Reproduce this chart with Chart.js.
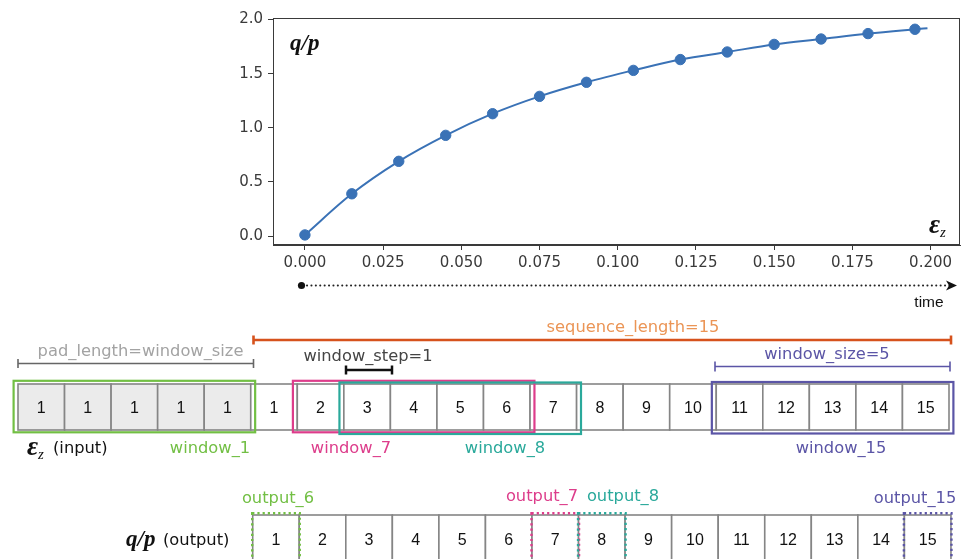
<!DOCTYPE html>
<html>
<head>
<meta charset="utf-8">
<script src="https://cdn.jsdelivr.net/npm/chart.js@4.4.1/dist/chart.umd.min.js"></script>
<style>
  html, body { margin:0; padding:0; background:#fff; width:967px; height:559px; overflow:hidden; }
  #wrap { position:absolute; left:0; top:0; width:967px; height:280px; }
  #diagram { position:absolute; left:0; top:0; }
  .math { position:absolute; font-family:'Liberation Serif', serif; font-style:italic; font-weight:bold; color:#111; white-space:nowrap; line-height:1; }
  .math sub { font-size:0.55em; font-weight:normal; vertical-align:-0.25em; }
</style>
</head>
<body>
<div id="wrap"><canvas id="c"></canvas></div>
<svg id="diagram" width="967" height="559" xmlns="http://www.w3.org/2000/svg"></svg>
<div class="math" style="left:290px;top:31px;font-size:23px;">q/p</div>
<div class="math" style="left:929px;top:211px;font-size:27px;">ε<sub>z</sub></div>
<div class="math" style="left:27px;top:433px;font-size:27px;">ε<sub>z</sub></div>
<div class="math" style="left:126px;top:527px;font-size:23px;">q/p</div>
<script>
// ---- data ----
const strainValues = [0, 0.015, 0.030, 0.045, 0.060, 0.075, 0.090, 0.105, 0.120, 0.135, 0.150, 0.165, 0.180, 0.195];
const qpValues     = [0.01, 0.39, 0.69, 0.93, 1.13, 1.29, 1.42, 1.53, 1.63, 1.70, 1.77, 1.82, 1.87, 1.91];
const curveEndX = 0.199;
const curveEndY = 1.92;
const xTickValues = [0, 0.025, 0.05, 0.075, 0.1, 0.125, 0.15, 0.175, 0.2];
const yTickValues = [0, 0.5, 1.0, 1.5, 2.0];

const inputCells  = [1, 1, 1, 1, 1, 1, 2, 3, 4, 5, 6, 7, 8, 9, 10, 11, 12, 13, 14, 15];
const padCount = 5;
const outputCells = [1, 2, 3, 4, 5, 6, 7, 8, 9, 10, 11, 12, 13, 14, 15];
const windowNames  = ['window_1', 'window_7', 'window_8', 'window_15'];
const windowStarts = [0, 6, 7, 15];
const windowSize = 5;
const outputNames  = ['output_6', 'output_7', 'output_8', 'output_15'];
const outputIndex  = [0, 6, 7, 14];
const sequenceLabel = 'sequence_length=15';
const padLabel = 'pad_length=window_size';
const stepLabel = 'window_step=1';
const sizeLabel = 'window_size=5';

// ---- chart ----
const C0 = '#3a72b6';
const curvePts = strainValues.map((x, i) => ({x, y: qpValues[i]})).concat([{x: curveEndX, y: curveEndY}]);
const markerPts = strainValues.map((x, i) => ({x, y: qpValues[i]}));

const framePlugin = {
  id: 'frame',
  afterDraw(chart) {
    const a = chart.chartArea, ctx = chart.ctx;
    ctx.save();
    ctx.strokeStyle = '#3a3a3a';
    ctx.lineWidth = 1;
    ctx.strokeRect(Math.round(a.left) + 0.5, Math.round(a.top) + 0.5, Math.round(a.right - a.left) - 1, Math.round(a.bottom - a.top) - 1);
    ctx.restore();
  }
};

new Chart(document.getElementById('c'), {
  type: 'scatter',
  data: {
    datasets: [
      { data: curvePts, showLine: true, borderColor: C0, borderWidth: 2, pointRadius: 0, cubicInterpolationMode: 'monotone', order: 2 },
      { data: markerPts, showLine: false, backgroundColor: C0, borderColor: C0, pointRadius: 5.2, pointHoverRadius: 5.2, order: 1 }
    ]
  },
  options: {
    responsive: true, maintainAspectRatio: false, animation: false,
    layout: { padding: { left: 0, right: 7, top: 18, bottom: 0 } },
    plugins: { legend: { display: false }, tooltip: { enabled: false } },
    scales: {
      x: {
        type: 'linear', min: -0.0102, max: 0.2094,
        afterBuildTicks: s => { s.ticks = xTickValues.map(v => ({value: v})); },
        afterFit: s => { s.height = 35; },
        grid: { display: true, drawOnChartArea: false, drawTicks: true, tickLength: 5, color: '#3a3a3a' },
        border: { display: true, color: '#3a3a3a', width: 1 },
        ticks: { padding: 4, color: '#3a3a3a', font: { family: 'DejaVu Sans', size: 15 }, callback: v => Number(v).toFixed(3), maxRotation: 0 }
      },
      y: {
        type: 'linear', min: -0.083, max: 2.014,
        afterBuildTicks: s => { s.ticks = yTickValues.map(v => ({value: v})); },
        afterFit: s => { s.width = 273; },
        grid: { display: true, drawOnChartArea: false, drawTicks: true, tickLength: 5, color: '#3a3a3a' },
        border: { display: true, color: '#3a3a3a', width: 1 },
        ticks: { padding: 5, color: '#3a3a3a', font: { family: 'DejaVu Sans', size: 15 }, callback: v => Number(v).toFixed(1) }
      }
    }
  },
  plugins: [framePlugin]
});

// ---- diagram ----
const NS = 'http://www.w3.org/2000/svg';
const svg = document.getElementById('diagram');
function el(tag, attrs, text) {
  const e = document.createElementNS(NS, tag);
  for (const k in attrs) e.setAttribute(k, attrs[k]);
  if (text !== undefined) e.textContent = text;
  svg.appendChild(e);
  return e;
}
const colors = { green: '#72bf44', magenta: '#dd3d8b', teal: '#2aa99b', purple: '#5b55a6', orange: '#d6521c', orangeText: '#eb9556' };
const winColors = [colors.green, colors.magenta, colors.teal, colors.purple];
const winYShift = [0, 0, 1.7, 1.2];
const winLabelX = [210, 351, 505, 841];
const outLabelX = [278, 542, 623, 915];
const outLabelY = [497, 495, 495, 497];
const labelFont = { 'font-family': 'DejaVu Sans, sans-serif', 'font-size': '16.3px' };
const numFont = { 'font-family': 'Liberation Sans, Arial, sans-serif', 'font-size': '16px', fill: '#111', 'text-anchor': 'middle', 'dominant-baseline': 'central' };

// time arrow
el('circle', { cx: 301.5, cy: 285.5, r: 3.6, fill: '#111' });
el('line', { x1: 307, y1: 285.5, x2: 950, y2: 285.5, stroke: '#222', 'stroke-width': 2, 'stroke-dasharray': '0.1 4.3', 'stroke-linecap': 'round' });
el('polygon', { points: '957,285.5 946,280.5 949,285.5 946,290.5', fill: '#111' });
el('text', { x: 929, y: 301, 'font-family': 'Liberation Sans, Arial, sans-serif', 'font-size': '15.5px', fill: '#111', 'text-anchor': 'middle', 'dominant-baseline': 'central' }, 'time');

// brackets
function bracket(x1, x2, y, color, w, cap) {
  el('line', { x1, y1: y, x2, y2: y, stroke: color, 'stroke-width': w });
  el('line', { x1, y1: y - cap, x2: x1, y2: y + cap, stroke: color, 'stroke-width': w });
  el('line', { x1: x2, y1: y - cap, x2: x2, y2: y + cap, stroke: color, 'stroke-width': w });
}
bracket(253.5, 951, 340, colors.orange, 2.6, 4.5);
el('text', Object.assign({ x: 633, y: 326, fill: colors.orangeText, 'text-anchor': 'middle', 'dominant-baseline': 'central' }, labelFont), sequenceLabel);
bracket(18, 253.5, 363.5, '#666', 1.6, 4.5);
el('text', Object.assign({ x: 140.5, y: 350, fill: '#a3a3a3', 'text-anchor': 'middle', 'dominant-baseline': 'central' }, labelFont), padLabel);
bracket(346, 392, 370, '#111', 2.5, 4.5);
el('text', Object.assign({ x: 368, y: 355, fill: '#444', 'text-anchor': 'middle', 'dominant-baseline': 'central' }, labelFont), stepLabel);
bracket(715, 950, 366.5, colors.purple, 1.6, 5);
el('text', Object.assign({ x: 827, y: 353, fill: colors.purple, 'text-anchor': 'middle', 'dominant-baseline': 'central' }, labelFont), sizeLabel);

// input row
const inX0 = 18, cellW = 46.55, inY = 384, cellH = 46;
inputCells.forEach((v, i) => {
  const x = inX0 + i * cellW;
  el('rect', { x, y: inY, width: cellW, height: cellH, fill: i < padCount ? '#ebebeb' : '#fff', stroke: '#858585', 'stroke-width': 1.6 });
  el('text', Object.assign({ x: x + cellW / 2, y: inY + cellH / 2 }, numFont), String(v));
});
// windows
windowNames.forEach((name, k) => {
  const x1 = inX0 + windowStarts[k] * cellW - 4.4;
  const x2 = inX0 + (windowStarts[k] + windowSize) * cellW + 4.4;
  const y1 = inY - 3.2 + winYShift[k];
  el('rect', { x: x1, y: y1, width: x2 - x1, height: 51.5, fill: 'none', stroke: winColors[k], 'stroke-width': 2.2 });
  el('text', Object.assign({ x: winLabelX[k], y: 447, fill: winColors[k], 'text-anchor': 'middle', 'dominant-baseline': 'central' }, labelFont), name);
});
el('text', Object.assign({ x: 53, y: 447, fill: '#111', 'dominant-baseline': 'central' }, labelFont), '(input)');

// output row
const outX0 = 252.7, outY = 515;
outputCells.forEach((v, i) => {
  const x = outX0 + i * cellW;
  el('rect', { x, y: outY, width: cellW, height: cellH, fill: '#fff', stroke: '#858585', 'stroke-width': 1.6 });
  el('text', Object.assign({ x: x + cellW / 2, y: 539 }, numFont), String(v));
});
outputNames.forEach((name, k) => {
  const x = outX0 + outputIndex[k] * cellW;
  el('rect', { x: x - 0.5, y: outY - 1.8, width: cellW + 1, height: 60, fill: 'none', stroke: winColors[k], 'stroke-width': 2.4, 'stroke-dasharray': '2.2 3' });
  el('text', Object.assign({ x: outLabelX[k], y: outLabelY[k], fill: winColors[k], 'text-anchor': 'middle', 'dominant-baseline': 'central' }, labelFont), name);
});
el('text', Object.assign({ x: 163, y: 539, fill: '#111', 'dominant-baseline': 'central' }, labelFont), '(output)');
</script>
</body>
</html>
